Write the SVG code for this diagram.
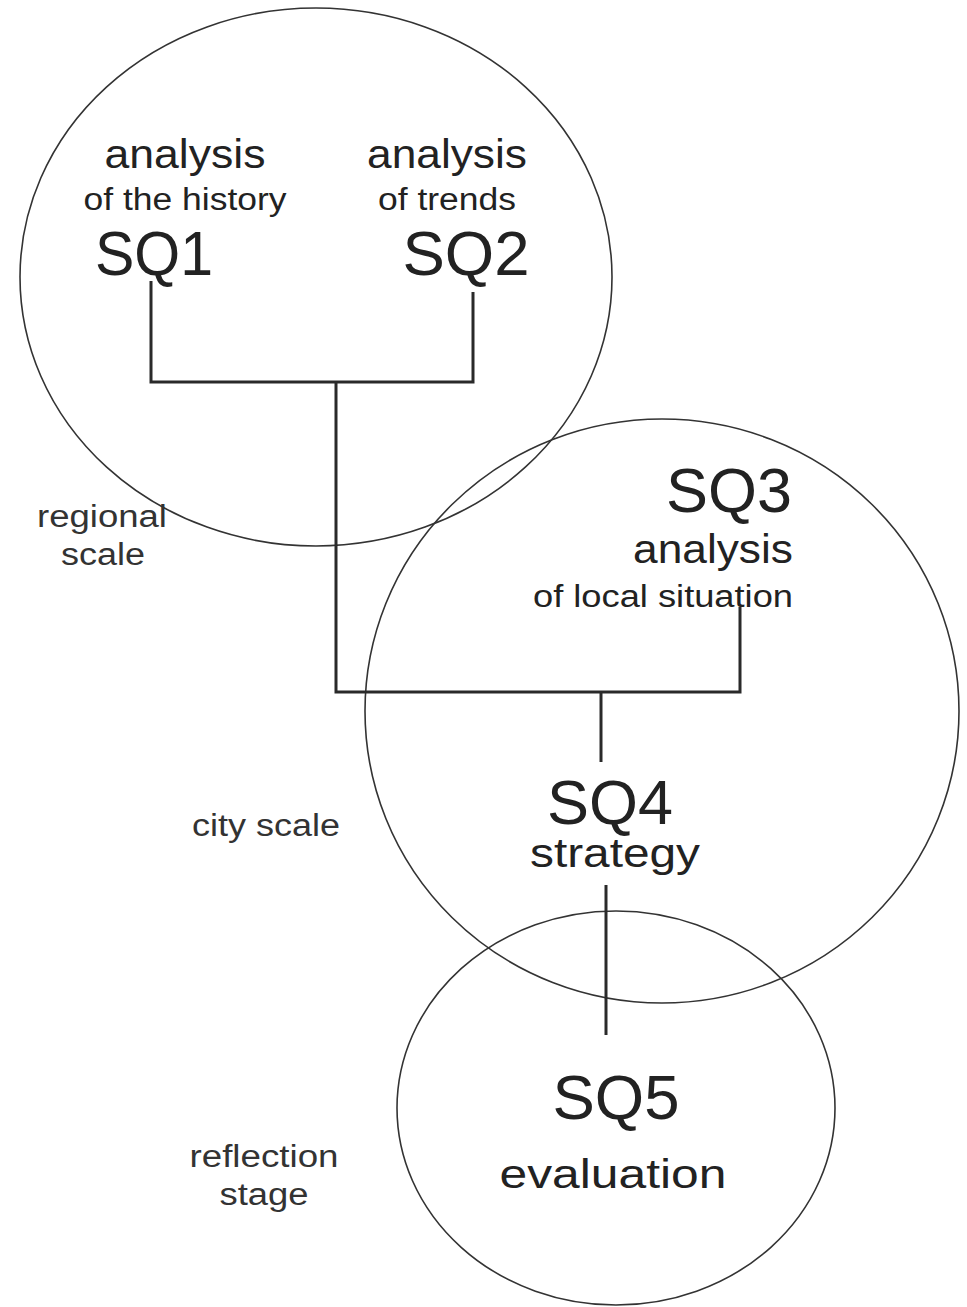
<svg xmlns="http://www.w3.org/2000/svg" width="967" height="1307" viewBox="0 0 967 1307">
<style>
.ring{fill:none;stroke:#333;stroke-width:1.6}
.conn{fill:none;stroke:#2a2a2a;stroke-width:3;stroke-linecap:butt;stroke-linejoin:miter}
text{font-family:"Liberation Sans",Arial,sans-serif;fill:#222}
.big{font-size:63px}
.mid{font-size:41px}
.sub{font-size:31px}
.lab{font-size:31px;fill:#333}
</style>
<rect width="967" height="1307" fill="#fff"/>
<g id="regional-circle"><ellipse class="ring" cx="316" cy="277" rx="296" ry="269"/></g>
<g id="city-circle"><ellipse class="ring" cx="662" cy="711" rx="297" ry="292"/></g>
<g id="reflection-circle"><ellipse class="ring" cx="616" cy="1108" rx="219" ry="197"/></g>
<g id="connectors">
<polyline class="conn" points="151,281 151,382 473,382 473,292"/>
<polyline class="conn" points="336,382 336,692 740,692 740,607"/>
<line class="conn" x1="601" y1="692" x2="601" y2="762"/>
<line class="conn" x1="606" y1="885" x2="606" y2="1035"/>
</g>
<g id="SQ1">
<text class="mid" x="185" y="168" text-anchor="middle" textLength="161" lengthAdjust="spacingAndGlyphs">analysis</text>
<text class="sub" x="185" y="210" text-anchor="middle" textLength="203" lengthAdjust="spacingAndGlyphs">of the history</text>
<text class="big" x="154" y="275" text-anchor="middle" textLength="118" lengthAdjust="spacingAndGlyphs">SQ1</text>
</g>
<g id="SQ2">
<text class="mid" x="447" y="168" text-anchor="middle" textLength="160" lengthAdjust="spacingAndGlyphs">analysis</text>
<text class="sub" x="447" y="210" text-anchor="middle" textLength="138" lengthAdjust="spacingAndGlyphs">of trends</text>
<text class="big" x="466" y="275" text-anchor="middle" textLength="127" lengthAdjust="spacingAndGlyphs">SQ2</text>
</g>
<g id="SQ3">
<text class="big" x="729" y="512" text-anchor="middle" textLength="126" lengthAdjust="spacingAndGlyphs">SQ3</text>
<text class="mid" x="713" y="563" text-anchor="middle" textLength="160" lengthAdjust="spacingAndGlyphs">analysis</text>
<text class="sub" x="663" y="607" text-anchor="middle" textLength="260" lengthAdjust="spacingAndGlyphs">of local situation</text>
</g>
<g id="SQ4">
<text class="big" x="610" y="824" text-anchor="middle" textLength="126" lengthAdjust="spacingAndGlyphs">SQ4</text>
<text class="mid" x="615" y="867" text-anchor="middle" textLength="170" lengthAdjust="spacingAndGlyphs">strategy</text>
</g>
<g id="SQ5">
<text class="big" x="616" y="1119" text-anchor="middle" textLength="127" lengthAdjust="spacingAndGlyphs">SQ5</text>
<text class="mid" x="613" y="1188" text-anchor="middle" textLength="227" lengthAdjust="spacingAndGlyphs">evaluation</text>
</g>
<g id="labels">
<text class="lab" x="102" y="527" text-anchor="middle" textLength="130" lengthAdjust="spacingAndGlyphs">regional</text>
<text class="lab" x="103" y="565" text-anchor="middle" textLength="84" lengthAdjust="spacingAndGlyphs">scale</text>
<text class="lab" x="266" y="836" text-anchor="middle" textLength="148" lengthAdjust="spacingAndGlyphs">city scale</text>
<text class="lab" x="264" y="1167" text-anchor="middle" textLength="149" lengthAdjust="spacingAndGlyphs">reflection</text>
<text class="lab" x="264" y="1205" text-anchor="middle" textLength="89" lengthAdjust="spacingAndGlyphs">stage</text>
</g>
</svg>
